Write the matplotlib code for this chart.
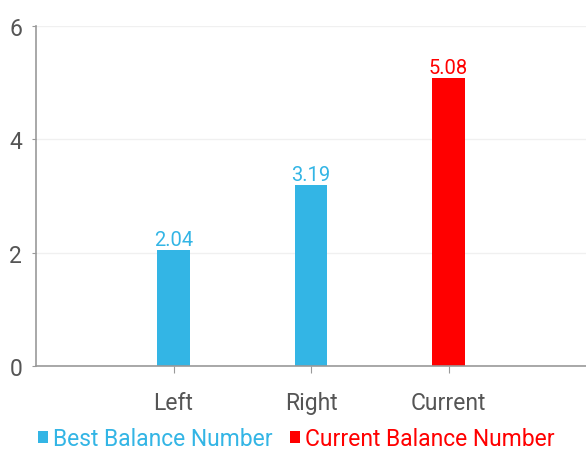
import matplotlib
matplotlib.use("Agg")
import matplotlib.pyplot as plt
import numpy as np

categories = ["Left", "Right", "Current"]
best_values = [2.04, 3.19, np.nan]
current_values = [np.nan, np.nan, 5.08]
series_names = ["Best Balance Number", "Current Balance Number"]
colors = ["#33b5e5", "#ff0000"]

plt.rcParams['font.family'] = ['Roboto', 'DejaVu Sans']

fig = plt.figure(figsize=(5.86, 4.52), dpi=100)
ax = fig.add_axes([36/586, 85/452, 550/586, 340/452])

x = np.arange(1, len(categories) + 1)
w = 0.235
b1 = ax.bar(x, best_values, width=w, color=colors[0], label=series_names[0])
b2 = ax.bar(x, current_values, width=w, color=colors[1], label=series_names[1])

for xi, v in zip(x, best_values):
    if not np.isnan(v):
        ax.text(xi, v + 0.02, f"{v:.2f}", ha="center", va="bottom", color=colors[0], fontsize=14.5)
for xi, v in zip(x, current_values):
    if not np.isnan(v):
        ax.text(xi, v + 0.02, f"{v:.2f}", ha="center", va="bottom", color=colors[1], fontsize=14.5)

ax.set_xlim(0, 4)
ax.set_ylim(0, 6)
ax.set_yticks([0, 2, 4, 6])
ax.set_xticks(x)
ax.set_xticklabels(categories)
ax.grid(axis="y", color="#f0f0f0", linewidth=1)
ax.set_axisbelow(True)
for s in ["top", "right"]:
    ax.spines[s].set_visible(False)
for s in ["left", "bottom"]:
    ax.spines[s].set_color("#999999")
    ax.spines[s].set_linewidth(1.2)
ax.tick_params(axis="y", length=3, color="#999999", labelsize=16.5, labelcolor="#555555", pad=7)
ax.tick_params(axis="x", length=5, color="#999999", labelsize=16.5, labelcolor="#555555", pad=13)

leg = fig.legend(handles=[b1, b2], loc="center left", bbox_to_anchor=(38/586, 12/452), ncol=2,
                 frameon=False, fontsize=16.5, handlelength=0.45, handleheight=0.45,
                 handletextpad=0.2, columnspacing=0.75, borderaxespad=0.0, borderpad=0.0)
for t, c in zip(leg.get_texts(), colors):
    t.set_color(c)

fig.savefig("out.png", dpi=100)
